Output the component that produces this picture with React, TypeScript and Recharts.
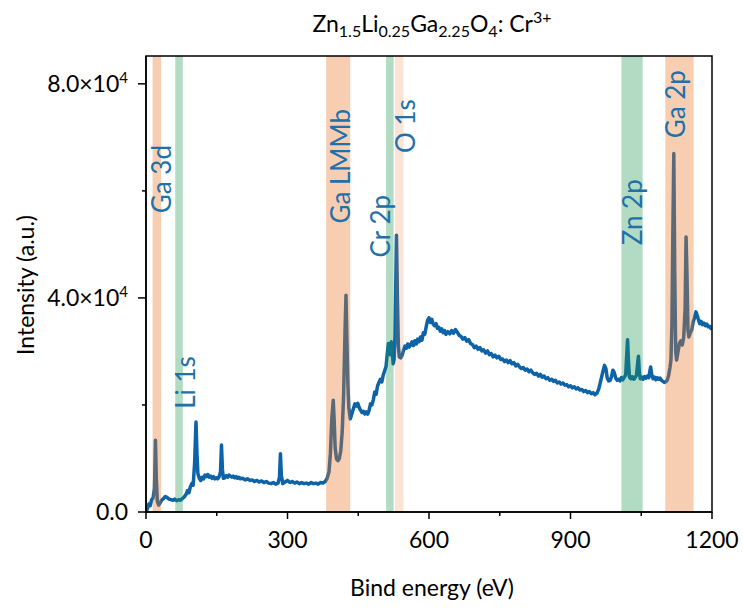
import React from 'react';
import { ComposedChart, Line, XAxis, YAxis, ReferenceArea, ReferenceDot } from 'recharts';

// XPS survey spectrum
const energy = [
  0, 3, 6, 9, 12, 15, 18, 20, 22, 24, 27, 30, 33, 37, 41, 45, 49, 53, 57, 61, 65, 69, 73, 77, 81, 85, 88, 91, 94, 97,
  100, 103, 106, 108, 110, 113, 116, 119, 122, 125, 128, 131, 134, 137, 140, 143, 146, 149, 152, 155, 158, 160, 162, 164,
  167, 170, 173, 176, 179, 182, 185, 188, 191, 194, 197, 200, 205, 210, 215, 220, 225, 230, 235, 240, 245, 250, 255, 260,
  265, 270, 275, 280, 283, 285, 287, 290, 295, 300, 305, 310, 315, 320, 325, 330, 335, 340, 345, 350, 355, 360, 365, 370,
  375, 380, 384, 388, 391, 394, 397, 399, 401, 404, 407, 410, 413, 416, 419, 422, 424, 426, 428, 430, 433, 436, 440, 443,
  446, 449, 452, 455, 458, 461, 464, 467, 470, 473, 476, 479, 482, 485, 488, 491, 494, 497, 500, 503, 506, 509, 512, 514,
  516, 518, 520, 522, 524, 526, 528, 530, 531, 533, 535, 537, 540, 543, 546, 549, 552, 555, 558, 561, 564, 567, 570, 573,
  576, 579, 582, 585, 588, 591, 594, 597, 600, 603, 606, 609, 612, 615, 618, 621, 624, 627, 630, 633, 636, 640, 644, 648,
  652, 656, 660, 664, 668, 672, 676, 680, 684, 688, 692, 696, 700, 704, 708, 712, 716, 720, 724, 728, 732, 736, 740, 744,
  748, 752, 756, 760, 764, 768, 772, 776, 780, 784, 788, 792, 796, 800, 804, 808, 812, 816, 820, 824, 828, 832, 836, 840,
  844, 848, 852, 856, 860, 864, 868, 872, 876, 880, 884, 888, 892, 896, 900, 904, 908, 912, 916, 920, 924, 928, 932, 936,
  940, 944, 948, 952, 956, 960, 964, 968, 972, 975, 978, 981, 984, 987, 990, 993, 996, 999, 1002, 1005, 1008, 1011, 1014,
  1017, 1019, 1021, 1023, 1025, 1028, 1031, 1034, 1037, 1040, 1042, 1044, 1046, 1048, 1051, 1054, 1057, 1060, 1063, 1066,
  1068, 1070, 1072, 1075, 1078, 1081, 1084, 1087, 1090, 1093, 1096, 1099, 1102, 1105, 1108, 1111, 1113, 1115, 1117, 1119,
  1121, 1123, 1125, 1128, 1131, 1134, 1137, 1140, 1143, 1145, 1147, 1149, 1151, 1154, 1157, 1160, 1163, 1166, 1168, 1171,
  1174, 1177, 1180, 1183, 1186, 1189, 1192, 1195, 1198, 1200,
];
const intensity = [
  0, 600, 1500, 1200, 2300, 2600, 4500, 13400, 6000, 2000, 1300, 1700, 2200, 2500, 2900, 2700, 2400, 2300, 2200, 2400,
  2100, 2300, 2200, 2500, 2800, 3300, 4000, 3600, 4700, 5300, 5000, 9000, 16800, 11000, 7200, 6300, 5900, 6500, 6200,
  6900, 6600, 7000, 6500, 6700, 6300, 6600, 6200, 6400, 6200, 6600, 7500, 12500, 8000, 6300, 6400, 6800, 6500, 6900, 6700,
  6500, 6700, 6400, 6600, 6300, 6500, 6200, 6300, 6000, 6200, 5900, 6000, 5700, 5900, 5600, 5800, 5500, 5700, 5400, 5300,
  5500, 5200, 5400, 6500, 10900, 6800, 5300, 5600, 5900, 5500, 5700, 5400, 5600, 5300, 5500, 5300, 5400, 5200, 5500, 5300,
  5400, 5200, 5500, 5400, 5700, 6300, 7500, 11000, 17500, 20900, 17000, 12000, 9900, 9600, 10000, 11500, 15000, 22000,
  34000, 40500, 32000, 24000, 19500, 17400, 18200, 19400, 20200, 19800, 20300, 19500, 19000, 18600, 18800, 18300, 18700,
  18300, 19000, 20200, 20000, 21000, 22400, 22000, 23600, 24200, 24800, 24300, 25600, 26400, 27200, 30000, 31500, 30500,
  29400, 31800, 30000, 27700, 28500, 33000, 45000, 51700, 40000, 31000, 29000, 28800, 29300, 30200, 31000, 30600, 31400,
  30800, 31200, 31800, 31100, 32000, 31400, 32300, 31800, 32700, 32100, 33500, 33200, 34600, 35800, 36300, 35400, 36000,
  35100, 34800, 35200, 34300, 34500, 33800, 34200, 33500, 33900, 33200, 33700, 33300, 33900, 33400, 34100, 33600, 33000,
  32800, 32300, 32600, 31900, 32200, 31500, 31300, 30700, 31000, 30400, 30700, 30100, 30300, 29700, 30100, 29400, 29600,
  29000, 29300, 28800, 29100, 28500, 28600, 28100, 28400, 27900, 28300, 27700, 27900, 27300, 27600, 27100, 26800, 27000,
  26500, 26700, 26200, 26500, 26000, 25700, 25900, 25400, 25700, 25200, 25400, 24900, 25100, 24600, 24800, 24400, 24600,
  24100, 24300, 23900, 24100, 23700, 23800, 23400, 23600, 23200, 23400, 23000, 23200, 22800, 22900, 22500, 22700, 22300,
  22500, 22100, 22300, 21900, 22200, 23000, 24500, 26000, 27400, 26800, 25000, 24500, 24600, 25300, 26500, 26000, 25000,
  24600, 24800, 24500, 25100, 24700, 25200, 25600, 29000, 32200, 28000, 25200, 24900, 25300, 24800, 25100, 25600, 27500,
  29100, 26000, 24900, 25200, 24800, 25300, 25000, 25400, 25100, 26200, 27100, 25800, 24900, 25200, 24700, 25100, 24800,
  25000, 24600, 24400, 24200, 24300, 24600, 25500, 27000, 28500, 35000, 52000, 67000, 45000, 30000, 28400, 30000, 31500,
  32000, 31200, 32600, 38000, 51400, 44000, 34000, 32700, 33500, 34000, 35500, 36300, 37400, 36900, 36000, 35200, 35600,
  35000, 35300, 34800, 35100, 34600, 34700, 34300, 34400,
];

// highlighted core-level regions
const bandNames = ['Ga 3d', 'Li 1s', 'Ga LMMb', 'Cr 2p', 'O 1s', 'Zn 2p', 'Ga 2p'];
const bandStart = [14, 62, 382, 509, 528, 1008, 1101];
const bandEnd = [32, 78, 433, 525, 546, 1053, 1161];
const bandKind = ['ga', 'li', 'ga', 'cr', 'o', 'zn', 'ga'];

// where each band label sits (energy, intensity)
const labelEnergy = [31.8, 82.7, 411.6, 496.5, 549.5, 1031, 1122];
const labelIntensity = [62200, 24200, 64600, 53400, 72100, 56000, 76200];

const xTicks = [0, 150, 300, 450, 600, 750, 900, 1050, 1200];
const yTicks = [0, 20000, 40000, 60000, 80000];

const spectrum = energy.map((e, i) => ({ energy: e, intensity: intensity[i] }));

const FONT = 'Lato, "Open Sans", sans-serif';
const LINE = '#0d63a7';
const LABEL = '#2270aa';
const bandFill: Record<string, string> = { ga: '#e97828', li: '#1e9650', cr: '#1e9650', zn: '#1e9650', o: '#e97828' };
const bandAlpha: Record<string, number> = { ga: 0.36, li: 0.34, cr: 0.34, zn: 0.34, o: 0.2 };

const XTick = (props: any) => {
  const { x, y, payload } = props;
  const major = payload.value % 300 === 0;
  return (
    <g>
      <line x1={x} x2={x} y1={y} y2={y + (major ? 7 : 4)} stroke="#000" strokeWidth={1.5} />
      {major && (
        <text x={x} y={y + 36} textAnchor="middle" fontSize={23} fontFamily={FONT} fill="#000">
          {payload.value}
        </text>
      )}
    </g>
  );
};

const YTick = (props: any) => {
  const { x, y, payload } = props;
  const v = payload.value;
  const major = v % 40000 === 0;
  return (
    <g>
      <line x1={x - (major ? 8 : 4)} x2={x} y1={y} y2={y} stroke="#000" strokeWidth={1.5} />
      {major && (
        <text x={x - 18} y={y + 8} textAnchor="end" fontSize={23} fontFamily={FONT} fill="#000">
          {v === 0 ? (
            '0.0'
          ) : (
            <>
              <tspan>{(v / 10000).toFixed(1)}×10</tspan>
              <tspan dy={-9} fontSize={15}>4</tspan>
            </>
          )}
        </text>
      )}
    </g>
  );
};

const BandLabel = (text: string) => (props: any) => {
  const { cx, cy } = props;
  return (
    <text
      x={cx}
      y={cy}
      transform={`rotate(-90 ${cx} ${cy})`}
      textAnchor="middle"
      dominantBaseline="central"
      fontSize={26}
      fontFamily={FONT}
      fill={LABEL}
    >
      {text}
    </text>
  );
};

export default function App() {
  return (
    <div style={{ position: 'absolute', left: 0, top: 0, width: 743, height: 609, background: '#fff' }}>
      <div
        style={{
          position: 'absolute', left: 232, top: 9, width: 400, textAlign: 'center',
          fontFamily: FONT, fontSize: 23, lineHeight: '28px', color: '#000', whiteSpace: 'nowrap',
        }}
      >
        Zn<span style={{ fontSize: 16, verticalAlign: '-5px', lineHeight: 0 }}>1.5</span>
        Li<span style={{ fontSize: 16, verticalAlign: '-5px', lineHeight: 0 }}>0.25</span>
        Ga<span style={{ fontSize: 16, verticalAlign: '-5px', lineHeight: 0 }}>2.25</span>
        O<span style={{ fontSize: 16, verticalAlign: '-5px', lineHeight: 0 }}>4</span>: Cr
        <span style={{ fontSize: 16, verticalAlign: '9px', lineHeight: 0 }}>3+</span>
      </div>

      <ComposedChart
        width={743}
        height={609}
        data={spectrum}
        margin={{ top: 56, right: 31, bottom: 57, left: 0 }}
      >
        <XAxis
          type="number"
          dataKey="energy"
          domain={[0, 1200]}
          ticks={xTicks}
          interval={0}
          allowDataOverflow
          height={40}
          tickLine={false}
          tickSize={0}
          tickMargin={0}
          tick={<XTick />}
          axisLine={{ stroke: '#000', strokeWidth: 1.5 }}
        />
        <YAxis
          type="number"
          dataKey="intensity"
          domain={[0, 85200]}
          ticks={yTicks}
          interval={0}
          allowDataOverflow
          width={146}
          tickLine={false}
          tickSize={0}
          tickMargin={0}
          tick={<YTick />}
          axisLine={{ stroke: '#000', strokeWidth: 1.5 }}
        />
        <Line
          type="linear"
          dataKey="intensity"
          stroke={LINE}
          strokeWidth={3.5}
          strokeLinejoin="round"
          dot={false}
          activeDot={false}
          isAnimationActive={false}
        />
        {bandNames.map((name, i) => (
          <ReferenceArea
            key={name}
            x1={bandStart[i]}
            x2={bandEnd[i]}
            y1={0}
            y2={85200}
            fill={bandFill[bandKind[i]]}
            fillOpacity={bandAlpha[bandKind[i]]}
            stroke="none"
            zIndex={450}
          />
        ))}
        {bandNames.map((name, i) => (
          <ReferenceDot
            key={'l' + name}
            x={labelEnergy[i]}
            y={labelIntensity[i]}
            r={0}
            shape={BandLabel(name)}
            zIndex={460}
          />
        ))}
        <ReferenceArea
          x1={0}
          x2={1200}
          y1={0}
          y2={85200}
          fill="none"
          stroke="#000"
          strokeWidth={1.5}
          zIndex={470}
        />
      </ComposedChart>

      <div
        style={{
          position: 'absolute', left: 232, top: 573, width: 400, textAlign: 'center',
          fontFamily: FONT, fontSize: 23, lineHeight: '28px', color: '#000',
        }}
      >
        Bind energy (eV)
      </div>
      <div
        style={{
          position: 'absolute', left: -75, top: 271, width: 200, height: 28, textAlign: 'center',
          fontFamily: FONT, fontSize: 23, lineHeight: '28px', color: '#000', transform: 'rotate(-90deg)',
        }}
      >
        Intensity (a.u.)
      </div>
    </div>
  );
}
